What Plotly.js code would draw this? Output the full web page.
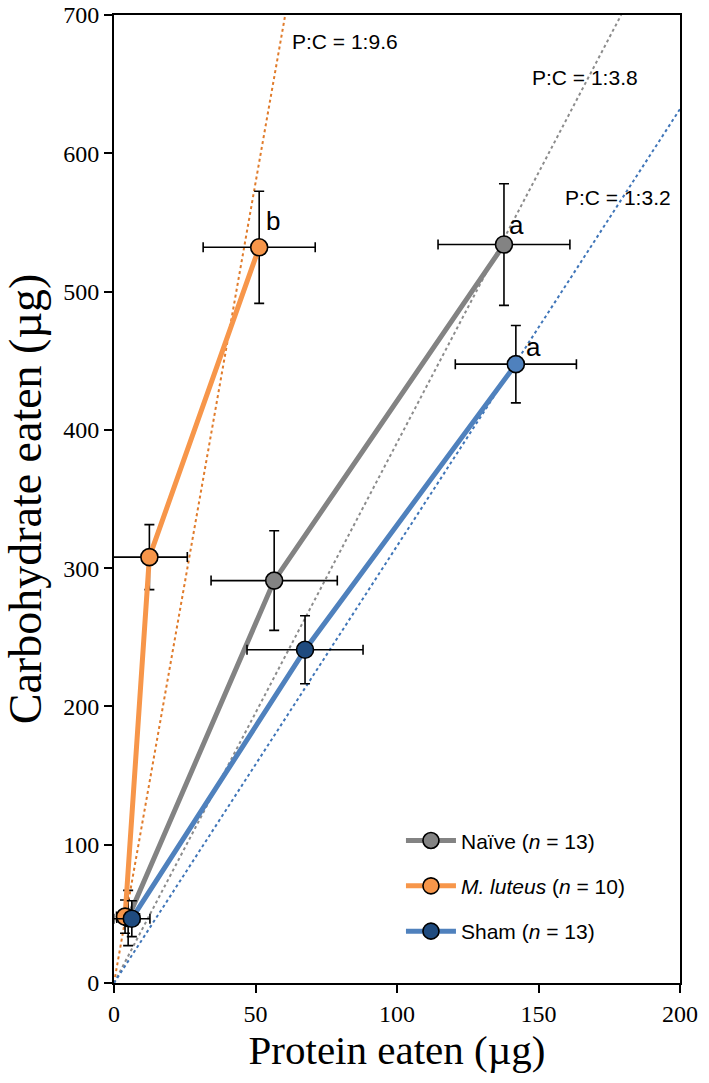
<!DOCTYPE html>
<html>
<head>
<meta charset="utf-8">
<script src="https://cdn.plot.ly/plotly-3.0.1.min.js"></script>
<style>html,body{margin:0;padding:0;background:#fff;}#chart{width:709px;height:1083px;}</style>
</head>
<body>
<div id="chart"></div>
<script>
// Data
const naiveProtein = [5, 56.6, 137.8];
const naiveCarb = [47, 291, 534];
const naiveProteinErr = [4, 22.3, 23.3];
const naiveCarbErr = [20, 36, 44];

const luteusProtein = [3.9, 12.5, 51.3];
const luteusCarb = [48, 308, 532];
const luteusProteinErr = [3, 13.4, 19.8];
const luteusCarbErr = [12, 23.5, 40.5];

const shamProtein = [6.3, 67.5, 142];
const shamCarb = [46.5, 241, 447.5];
const shamProteinErr = [6.4, 20.5, 21.4];
const shamCarbErr = [13, 24.6, 28];

// Intake-ratio reference lines (start, end)
const ratioLuteusX = [0, 60.5];
const ratioLuteusY = [0, 700];
const ratioNaiveX = [0, 179.2];
const ratioNaiveY = [0, 700];
const ratioShamX = [0, 200];
const ratioShamY = [0, 632];

const ratioLabels = ['P:C = 1:9.6', 'P:C = 1:3.8', 'P:C = 1:3.2'];
const ratioLabelX = [62.2, 147, 158.7];
const ratioLabelY = [680.5, 655, 568];

const letterLabels = ['b', 'a', 'a'];
const letterX = [56.1, 142.3, 148.2];
const letterY = [551, 548, 460];

const traceNames = ['Naïve (<i>n</i> = 13)', '<i>M. luteus</i> (<i>n</i> = 10)', 'Sham (<i>n</i> = 13)'];

const GRAY = '#838383', ORANGE = '#f7964a', BLUE = '#4f81bd', NAVY = '#1f4b7f';

function refLine(x, y, color) {
  return {x: x, y: y, mode: 'lines', type: 'scatter', showlegend: false, hoverinfo: 'skip',
    line: {color: color, width: 2, dash: 'dot'}};
}
function series(x, y, ex, ey, name, lineColor, markerColor, grp) {
  return {x: x, y: y, name: name, type: 'scatter', mode: 'lines+markers', legendgroup: grp,
    line: {color: lineColor, width: 5},
    marker: {size: 17, color: markerColor, line: {color: '#000', width: 1.6}},
    error_x: {type: 'data', array: ex, visible: true, color: '#000', thickness: 1.6, width: 5},
    error_y: {type: 'data', array: ey, visible: true, color: '#000', thickness: 1.6, width: 5}};
}

const data = [
  refLine(ratioLuteusX, ratioLuteusY, '#e07b2a'),
  refLine(ratioNaiveX, ratioNaiveY, '#8c8c8c'),
  refLine(ratioShamX, ratioShamY, '#3f75b8'),
  series(naiveProtein, naiveCarb, naiveProteinErr, naiveCarbErr, traceNames[0], GRAY, GRAY, 'g1'),
  series(luteusProtein, luteusCarb, luteusProteinErr, luteusCarbErr, traceNames[1], ORANGE, ORANGE, 'g2'),
  series(shamProtein, shamCarb, shamProteinErr, shamCarbErr, traceNames[2], BLUE, [NAVY, NAVY, BLUE], 'g3')
];

const annotations = [];
for (let i = 0; i < ratioLabels.length; i++) {
  annotations.push({x: ratioLabelX[i], y: ratioLabelY[i], xref: 'x', yref: 'y', text: ratioLabels[i],
    showarrow: false, xanchor: 'left', yanchor: 'middle',
    font: {family: 'Liberation Sans, Arial', size: 21, color: '#000'}});
}
for (let i = 0; i < letterLabels.length; i++) {
  annotations.push({x: letterX[i], y: letterY[i], xref: 'x', yref: 'y', text: letterLabels[i],
    showarrow: false, xanchor: 'center', yanchor: 'middle',
    font: {family: 'Liberation Sans, Arial', size: 26, color: '#000'}});
}

const layout = {
  width: 709, height: 1083,
  margin: {l: 114, r: 29, t: 15, b: 100},
  paper_bgcolor: '#fff', plot_bgcolor: '#fff',
  showlegend: true,
  legend: {x: 0.507, y: 0.168, xanchor: 'left', yanchor: 'top', bgcolor: 'rgba(0,0,0,0)',
    font: {family: 'Liberation Sans, Arial', size: 21, color: '#000'}, tracegroupgap: 15, itemwidth: 50},
  xaxis: {range: [0, 200], tickvals: [0, 50, 100, 150, 200], ticks: 'outside', ticklen: 8, tickwidth: 2,
    tickcolor: '#000', showline: true, linecolor: '#000', linewidth: 2, mirror: true, showgrid: false, zeroline: false,
    tickfont: {family: 'Liberation Serif, Times New Roman', size: 24, color: '#000'},
    title: {text: 'Protein eaten (µg)', font: {family: 'Liberation Serif, Times New Roman', size: 41, color: '#000'}, standoff: 8}},
  yaxis: {range: [0, 700], tickvals: [0, 100, 200, 300, 400, 500, 600, 700], ticks: 'outside', ticklen: 8, tickwidth: 2,
    tickcolor: '#000', showline: true, linecolor: '#000', linewidth: 2, mirror: true, showgrid: false, zeroline: false,
    tickfont: {family: 'Liberation Serif, Times New Roman', size: 24, color: '#000'},
    title: {text: 'Carbohydrate eaten (µg)', font: {family: 'Liberation Serif, Times New Roman', size: 46, color: '#000'}, standoff: 12}},
  annotations: annotations
};

Plotly.newPlot('chart', data, layout, {displayModeBar: false, staticPlot: true});
</script>
</body>
</html>
